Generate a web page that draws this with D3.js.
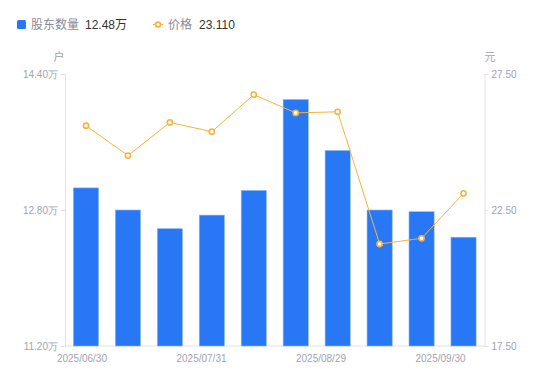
<!DOCTYPE html>
<html>
<head>
<meta charset="utf-8">
<script src="https://cdn.jsdelivr.net/npm/d3@7"></script>
<style>
  html, body { margin: 0; padding: 0; background: #fff; }
  svg { display: block; font-family: "Liberation Sans", Arial, "Noto Sans CJK SC", sans-serif; }
</style>
</head>
<body>
<div id="chart"></div>
<script>
// ---- data ----
const dates = ["2025/06/30", "2025/07/15", "2025/07/20", "2025/07/31", "2025/08/10",
               "2025/08/20", "2025/08/29", "2025/09/10", "2025/09/20", "2025/09/30"];
const holders = [13.06, 12.80, 12.58, 12.74, 13.03, 14.10, 13.50, 12.80, 12.78, 12.48]; // 万户
const prices = [25.60, 24.50, 25.72, 25.38, 26.74, 26.07, 26.11, 21.25, 21.46, 23.11];  // 元
const leftTicks = [11.20, 12.80, 14.40];
const rightTicks = [17.50, 22.50, 27.50];
const xLabelIdx = [0, 3, 6, 9];

const width = 550, height = 381;
const plot = { left: 65, right: 484.5, top: 74, bottom: 346 };

const blue = "#2878f5";
const orange = "#f8b33c";
const axisGray = "#e3e3e6";
const labelGray = "#a3a3b0";

const svg = d3.select("#chart").append("svg")
  .attr("width", width)
  .attr("height", height);

// scales
const x = d3.scaleBand()
  .domain(dates)
  .range([plot.left, plot.right])
  .paddingInner(0.4)
  .paddingOuter(0.2);

const yL = d3.scaleLinear().domain([11.2, 14.4]).range([plot.bottom, plot.top]);
const yR = d3.scaleLinear().domain([17.5, 27.5]).range([plot.bottom, plot.top]);

// ---- axes ----
const leftAxis = svg.append("g")
  .attr("transform", `translate(${plot.left},0)`)
  .call(d3.axisLeft(yL).tickValues(leftTicks).tickSize(4).tickPadding(3)
    .tickFormat(d => d3.format(".2f")(d) + "万"));

const rightAxis = svg.append("g")
  .attr("transform", `translate(${plot.right},0)`)
  .call(d3.axisRight(yR).tickValues(rightTicks).tickSize(4).tickPadding(3)
    .tickFormat(d3.format(".2f")));

[leftAxis, rightAxis].forEach(g => {
  g.select(".domain").attr("stroke", axisGray);
  g.selectAll(".tick line").attr("stroke", axisGray);
  g.selectAll(".tick text")
    .attr("fill", labelGray)
    .style("font-size", "10px");
});

// bottom line
svg.append("line")
  .attr("x1", plot.left).attr("x2", plot.right)
  .attr("y1", plot.bottom).attr("y2", plot.bottom)
  .attr("stroke", axisGray);

// x labels: spread evenly between first and last bar centers
const bw = x.bandwidth();
const firstC = x(dates[0]) + bw / 2;
const lastC = x(dates[dates.length - 1]) + bw / 2;
const labelX = d3.scaleLinear()
  .domain([0, dates.length - 1])
  .range([firstC - 4, lastC - 23]);

svg.append("g").selectAll("text")
  .data(xLabelIdx)
  .enter()
  .append("text")
  .attr("x", i => labelX(i))
  .attr("y", plot.bottom + 16)
  .attr("text-anchor", "middle")
  .attr("fill", labelGray)
  .style("font-size", "10px")
  .text(i => dates[i]);

// unit labels
svg.append("text")
  .attr("x", 59).attr("y", 61)
  .attr("text-anchor", "middle")
  .attr("fill", labelGray)
  .style("font-size", "11px")
  .text("户");
svg.append("text")
  .attr("x", 490).attr("y", 61)
  .attr("text-anchor", "middle")
  .attr("fill", labelGray)
  .style("font-size", "11px")
  .text("元");

// ---- bars ----
svg.append("g").selectAll("rect")
  .data(holders)
  .enter()
  .append("rect")
  .attr("x", (d, i) => x(dates[i]))
  .attr("y", d => yL(d))
  .attr("width", bw)
  .attr("height", d => plot.bottom - yL(d))
  .attr("fill", blue)
  .attr("stroke", "#8bb6fa")
  .attr("stroke-width", 0.6);

// ---- price line ----
const line = d3.line()
  .x((d, i) => x(dates[i]) + bw / 2)
  .y(d => yR(d));

svg.append("path")
  .datum(prices)
  .attr("d", line)
  .attr("fill", "none")
  .attr("stroke", orange)
  .attr("stroke-width", 1);

svg.append("g").selectAll("circle")
  .data(prices)
  .enter()
  .append("circle")
  .attr("cx", (d, i) => x(dates[i]) + bw / 2)
  .attr("cy", d => yR(d))
  .attr("r", 2.6)
  .attr("fill", "#fff")
  .attr("stroke", orange)
  .attr("stroke-width", 1.6);

// ---- legend ----
const legend = svg.append("g");
legend.append("rect")
  .attr("x", 17).attr("y", 20)
  .attr("width", 9).attr("height", 9)
  .attr("rx", 1.5)
  .attr("fill", blue);
legend.append("text")
  .attr("x", 31).attr("y", 29)
  .attr("fill", "#8a8a96")
  .style("font-size", "12px")
  .text("股东数量");
legend.append("text")
  .attr("x", 85).attr("y", 29)
  .attr("fill", "#333")
  .style("font-size", "12px")
  .text(d3.format(".2f")(holders[holders.length - 1]) + "万");

legend.append("line")
  .attr("x1", 153).attr("x2", 163)
  .attr("y1", 24.5).attr("y2", 24.5)
  .attr("stroke", orange)
  .attr("stroke-width", 1.2);
legend.append("circle")
  .attr("cx", 158).attr("cy", 24.5)
  .attr("r", 2.4)
  .attr("fill", "#fff")
  .attr("stroke", orange)
  .attr("stroke-width", 1.6);
legend.append("text")
  .attr("x", 168).attr("y", 29)
  .attr("fill", "#8a8a96")
  .style("font-size", "12px")
  .text("价格");
legend.append("text")
  .attr("x", 199).attr("y", 29)
  .attr("fill", "#333")
  .style("font-size", "12px")
  .text(d3.format(".3f")(prices[prices.length - 1]));
</script>
</body>
</html>
